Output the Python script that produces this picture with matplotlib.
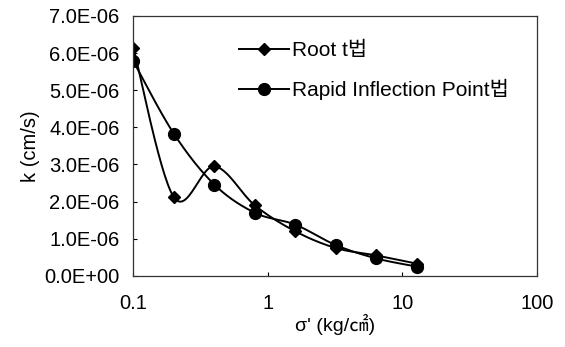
import numpy as np
import matplotlib.pyplot as plt
from matplotlib.ticker import FixedLocator, FuncFormatter

plt.rcParams['font.family'] = ['Liberation Sans', 'Noto Sans CJK KR']

# 데이터
stress = [0.1, 0.2, 0.4, 0.8, 1.6, 3.2, 6.4, 12.8]
k_root_t = [6.15e-6, 2.12e-6, 2.95e-6, 1.90e-6, 1.20e-6, 0.75e-6, 0.55e-6, 0.33e-6]
k_rip = [5.78e-6, 3.83e-6, 2.46e-6, 1.70e-6, 1.38e-6, 0.83e-6, 0.47e-6, 0.25e-6]
labels = ['Root t법', 'Rapid Inflection Point법']
markers = ['D', 'o']
msizes = [6.5, 8.5]


def smooth_curve(ax, xs, ys, n=30):
    # Excel 스타일의 부드러운 선 (화면 좌표에서 베지어)
    pts = ax.transData.transform(np.column_stack([xs, ys]))
    out = [pts[0]]
    for i in range(len(pts) - 1):
        p0 = pts[max(i - 1, 0)]
        p1 = pts[i]
        p2 = pts[i + 1]
        p3 = pts[min(i + 2, len(pts) - 1)]
        c1 = p1 + (p2 - p0) / 6
        c2 = p2 - (p3 - p1) / 6
        t = np.linspace(0, 1, n)[1:, None]
        seg = ((1 - t) ** 3) * p1 + 3 * ((1 - t) ** 2) * t * c1 + 3 * (1 - t) * t ** 2 * c2 + t ** 3 * p2
        out.extend(seg)
    out = np.array(out)
    return ax.transData.inverted().transform(out)


fig = plt.figure(figsize=(5.65, 3.47), dpi=100)
ax = fig.add_axes([0.236, 0.205, 0.714, 0.749])
ax.set_xscale('log')
ax.set_xlim(0.1, 100)
ax.set_ylim(0, 7e-6)

for ys, lab, mk, ms in zip([k_root_t, k_rip], labels, markers, msizes):
    curve = smooth_curve(ax, stress, ys)
    ax.plot(curve[:, 0], curve[:, 1], color='black', lw=1.4)
    ax.plot(stress, ys, linestyle='none', marker=mk, ms=ms, color='black')
    ax.plot([], [], color='black', lw=1.4, marker=mk, ms=ms, label=lab)

ax.xaxis.set_major_locator(FixedLocator([0.1, 1, 10, 100]))
ax.xaxis.set_minor_locator(FixedLocator([]))
ax.xaxis.set_major_formatter(FuncFormatter(lambda v, p: f'{v:g}'))
ax.set_yticks(np.arange(0, 7.01e-6, 1e-6))
ax.yaxis.set_major_formatter(FuncFormatter(lambda v, p: f'{v:.1E}'))
ax.tick_params(direction='in', length=3, width=0.8, labelsize=14.5, colors='black')
ax.tick_params(axis='x', pad=13)
ax.tick_params(axis='y', pad=10)
for s in ax.spines.values():
    s.set_linewidth(0.9)
    s.set_color('#333333')

ax.set_xlabel("σ' (kg/㎠)", fontsize=14, labelpad=1)
ax.set_ylabel('k (cm/s)', fontsize=14.5, labelpad=3)

ax.legend(loc='upper left', bbox_to_anchor=(0.215, 0.975), frameon=False, fontsize=15,
          handlelength=2.4, handletextpad=0.15, labelspacing=0.9)

fig.savefig('out.png', dpi=100)
